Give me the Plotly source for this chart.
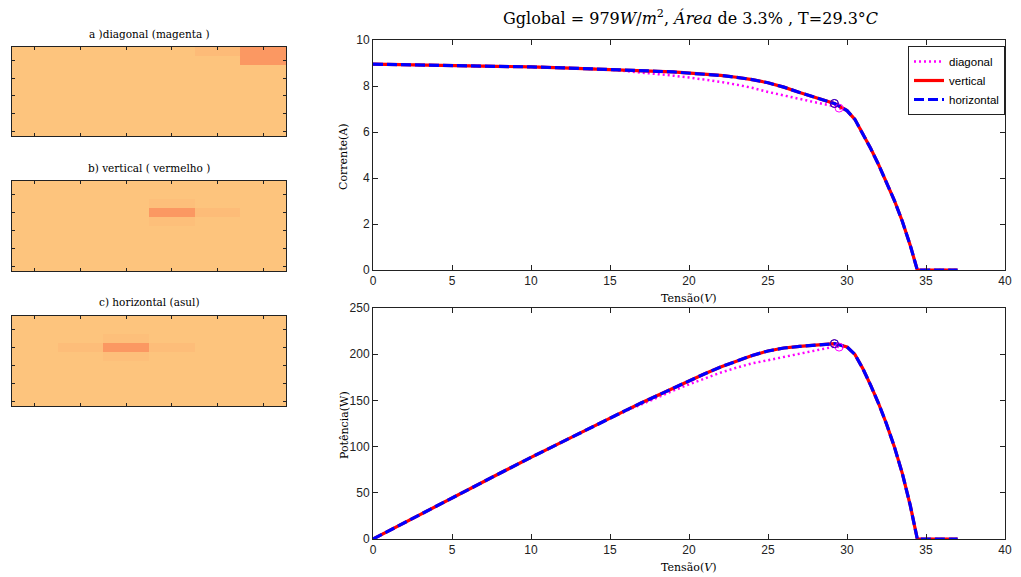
import plotly.graph_objects as go

# ---------------- data ----------------
tensao = [0, 2, 4, 6, 8, 10, 12, 14, 15, 16, 17, 18, 19, 20, 21, 22, 23, 24, 25, 26, 27, 28, 29,
          29.2, 29.5, 30, 30.5, 31, 31.5, 32, 32.5, 33, 33.5, 34, 34.45, 35, 36, 37]

corrente_vertical = [8.95, 8.93, 8.91, 8.89, 8.86, 8.83, 8.79, 8.75, 8.73, 8.70, 8.67, 8.64, 8.61,
                     8.57, 8.52, 8.46, 8.38, 8.28, 8.14, 7.95, 7.72, 7.49, 7.28, 7.24, 7.13, 6.93,
                     6.55, 5.95, 5.28, 4.58, 3.83, 3.02, 2.12, 1.08, 0.0, 0.0, 0.0, 0.0]
corrente_horizontal = [8.95, 8.93, 8.91, 8.89, 8.86, 8.83, 8.79, 8.75, 8.73, 8.70, 8.67, 8.64, 8.61,
                       8.57, 8.52, 8.46, 8.38, 8.28, 8.14, 7.95, 7.72, 7.49, 7.28, 7.24, 7.13, 6.93,
                       6.55, 5.95, 5.28, 4.58, 3.83, 3.02, 2.12, 1.08, 0.0, 0.0, 0.0, 0.0]
corrente_diagonal = [8.95, 8.93, 8.91, 8.89, 8.86, 8.83, 8.79, 8.75, 8.71, 8.65, 8.59, 8.52, 8.45,
                     8.37, 8.28, 8.18, 8.06, 7.92, 7.74, 7.58, 7.42, 7.29, 7.15, 7.13, 7.04, 6.93,
                     6.55, 5.95, 5.28, 4.58, 3.83, 3.02, 2.12, 1.08, 0.0, 0.0, 0.0, 0.0]

potencia_vertical = [0, 17.9, 35.6, 53.3, 70.9, 88.3, 105.5, 122.5, 131.0, 139.2, 147.4, 155.5, 163.6,
                     171.4, 178.9, 186.1, 192.7, 198.7, 203.5, 206.7, 208.4, 209.7, 211.1, 211.4, 210.3,
                     207.9, 199.8, 184.5, 166.3, 146.6, 124.5, 99.7, 71.0, 36.7, 0, 0, 0, 0]
potencia_horizontal = [0, 17.9, 35.6, 53.3, 70.9, 88.3, 105.5, 122.5, 131.0, 139.2, 147.4, 155.5, 163.6,
                       171.4, 178.9, 186.1, 192.7, 198.7, 203.5, 206.7, 208.4, 209.7, 211.1, 211.4, 210.3,
                       207.9, 199.8, 184.5, 166.3, 146.6, 124.5, 99.7, 71.0, 36.7, 0, 0, 0, 0]
potencia_diagonal = [0, 17.9, 35.6, 53.3, 70.9, 88.3, 105.5, 122.5, 130.7, 138.4, 146.0, 153.4, 160.6,
                     167.4, 173.9, 180.0, 185.4, 190.1, 193.5, 197.1, 200.3, 204.1, 207.4, 208.2, 207.7,
                     207.9, 199.8, 184.5, 166.3, 146.6, 124.5, 99.7, 71.0, 36.7, 0, 0, 0, 0]

# maximum power points (diagonal, vertical, horizontal)
mpp_tensao = [29.5, 29.2, 29.2]
mpp_corrente = [7.04, 7.24, 7.24]
mpp_potencia = [207.7, 211.4, 211.4]

series_names = ["diagonal", "vertical", "horizontal"]
series_colors = ["#FF00FF", "#FF0000", "#0000FF"]

x_ticks_iv = [0, 5, 10, 15, 20, 25, 30, 35, 40]
y_ticks_i = [0, 2, 4, 6, 8, 10]
y_ticks_p = [0, 50, 100, 150, 200, 250]

# shading maps (10 rows x 6 columns)
sombra_diagonal = [
    [0, 0, 0, 0, 0.2, 1],
    [0, 0, 0, 0, 0, 1],
    [0, 0, 0, 0, 0, 0],
    [0, 0, 0, 0, 0, 0],
    [0, 0, 0, 0, 0, 0],
    [0, 0, 0, 0, 0, 0],
    [0, 0, 0, 0, 0, 0],
    [0, 0, 0, 0, 0, 0],
    [0, 0, 0, 0, 0, 0],
    [0, 0, 0, 0, 0, 0],
]
sombra_vertical = [
    [0, 0, 0, 0, 0, 0],
    [0, 0, 0, 0, 0, 0],
    [0, 0, 0, 0.12, 0, 0],
    [0, 0, 0, 1, 0.18, 0],
    [0, 0, 0, 0.12, 0, 0],
    [0, 0, 0, 0, 0, 0],
    [0, 0, 0, 0, 0, 0],
    [0, 0, 0, 0, 0, 0],
    [0, 0, 0, 0, 0, 0],
    [0, 0, 0, 0, 0, 0],
]
sombra_horizontal = [
    [0, 0, 0, 0, 0, 0],
    [0, 0, 0, 0, 0, 0],
    [0, 0, 0.12, 0, 0, 0],
    [0, 0.15, 1, 0.15, 0, 0],
    [0, 0, 0.12, 0, 0, 0],
    [0, 0, 0, 0, 0, 0],
    [0, 0, 0, 0, 0, 0],
    [0, 0, 0, 0, 0, 0],
    [0, 0, 0, 0, 0, 0],
    [0, 0, 0, 0, 0, 0],
]
heat_titles = ["a )diagonal (magenta )", "b) vertical ( vermelho )", "c) horizontal (asul)"]

# ---------------- figure ----------------
W, H = 1021, 577
def fx(px):
    return px / W
def fy(py):
    return 1 - py / H

fig = go.Figure()

colorscale = [[0, "rgb(253,196,125)"], [1, "rgb(251,152,98)"]]
heat_boxes = [(47, 136), (181, 271), (316, 406)]
for k, z in enumerate([sombra_diagonal, sombra_vertical, sombra_horizontal]):
    fig.add_trace(go.Heatmap(z=z, colorscale=colorscale, zmin=0, zmax=1, showscale=False,
                             xaxis=f"x{k+1 if k else ''}", yaxis=f"y{k+1 if k else ''}",
                             hoverinfo="skip"))

line_styles = [dict(color=series_colors[0], width=2.5, dash="2px,3px"),
               dict(color=series_colors[1], width=3.2, dash="solid"),
               dict(color=series_colors[2], width=3.2, dash="10px,4px")]
i_series = [corrente_diagonal, corrente_vertical, corrente_horizontal]
p_series = [potencia_diagonal, potencia_vertical, potencia_horizontal]
for s in range(3):
    fig.add_trace(go.Scatter(x=tensao, y=i_series[s], mode="lines", name=series_names[s],
                             line=line_styles[s], xaxis="x4", yaxis="y4"))
for s in range(3):
    fig.add_trace(go.Scatter(x=[mpp_tensao[s]], y=[mpp_corrente[s]], mode="markers",
                             marker=dict(symbol="circle-open", size=8, color=series_colors[s],
                                         line=dict(width=1)),
                             showlegend=False, xaxis="x4", yaxis="y4"))
for s in range(3):
    fig.add_trace(go.Scatter(x=tensao, y=p_series[s], mode="lines", name=series_names[s],
                             line=line_styles[s], showlegend=False, xaxis="x5", yaxis="y5"))
for s in range(3):
    fig.add_trace(go.Scatter(x=[mpp_tensao[s]], y=[mpp_potencia[s]], mode="markers",
                             marker=dict(symbol="circle-open", size=8, color=series_colors[s],
                                         line=dict(width=1)),
                             showlegend=False, xaxis="x5", yaxis="y5"))

tickfont = dict(family="Liberation Sans, Arial, sans-serif", size=12, color="#222")
axis_common = dict(showline=True, linecolor="#222", linewidth=1, mirror="ticks", ticks="inside",
                   ticklen=5, tickcolor="#222", showgrid=False, zeroline=False, tickfont=tickfont,
                   automargin=False)

layout = dict(width=W, height=H, margin=dict(l=0, r=0, t=0, b=0, pad=0, autoexpand=False),
              paper_bgcolor="white", plot_bgcolor="white", showlegend=True)

for k, (top, bot) in enumerate(heat_boxes):
    sx = "xaxis" + (str(k + 1) if k else "")
    sy = "yaxis" + (str(k + 1) if k else "")
    layout[sx] = dict(axis_common, domain=[fx(12), fx(286)], range=[-0.5, 5.5],
                      tickvals=[0, 1, 2, 3, 4, 5], showticklabels=False, ticklen=3,
                      anchor="y" + (str(k + 1) if k else ""))
    layout[sy] = dict(axis_common, domain=[fy(bot), fy(top)], range=[9.5, -0.5],
                      tickvals=[1, 3, 5, 7, 9], showticklabels=False, ticklen=3,
                      anchor="x" + (str(k + 1) if k else ""))

layout["xaxis4"] = dict(axis_common, domain=[fx(373), fx(1005)], range=[0, 40],
                        tickvals=x_ticks_iv, anchor="y4")
layout["yaxis4"] = dict(axis_common, domain=[fy(270), fy(40)], range=[0, 10],
                        tickvals=y_ticks_i, anchor="x4")
layout["xaxis5"] = dict(axis_common, domain=[fx(373), fx(1005)], range=[0, 40],
                        tickvals=x_ticks_iv, anchor="y5")
layout["yaxis5"] = dict(axis_common, domain=[fy(539), fy(308)], range=[0, 250],
                        tickvals=y_ticks_p, anchor="x5")

layout["legend"] = dict(x=fx(1005), y=fy(46), xanchor="right", yanchor="top",
                        bgcolor="white", bordercolor="#222", borderwidth=1,
                        font=dict(family="Liberation Sans, Arial, sans-serif", size=11.5, color="#000"),
                        tracegroupgap=0, itemwidth=30)

serif = "DejaVu Serif, Liberation Serif, serif"
annotations = []
heat_title_y = [34, 168, 302]
for k in range(3):
    annotations.append(dict(text=heat_titles[k], x=fx(149), y=fy(heat_title_y[k]), xref="paper",
                            yref="paper", showarrow=False, xanchor="center", yanchor="middle",
                            font=dict(family=serif, size=10.5, color="#000")))
annotations.append(dict(text="Gglobal = 979<i>W</i>/<i>m</i><sup>2</sup>, <i>Área</i> de 3.3% , T=29.3°<i>C</i>",
                        x=fx(690), y=fy(18), xref="paper", yref="paper", showarrow=False,
                        xanchor="center", yanchor="middle", font=dict(family=serif, size=16, color="#000")))
annotations.append(dict(text="Corrente(A)", x=fx(344), y=fy(157), xref="paper", yref="paper",
                        showarrow=False, textangle=-90, xanchor="center", yanchor="middle",
                        font=dict(family=serif, size=11, color="#000")))
annotations.append(dict(text="Potência(W)", x=fx(344), y=fy(425), xref="paper", yref="paper",
                        showarrow=False, textangle=-90, xanchor="center", yanchor="middle",
                        font=dict(family=serif, size=11, color="#000")))
for yy in [298, 567]:
    annotations.append(dict(text="Tensão(<i>V</i>)", x=fx(688), y=fy(yy), xref="paper", yref="paper",
                            showarrow=False, xanchor="center", yanchor="middle",
                            font=dict(family=serif, size=11, color="#000")))
layout["annotations"] = annotations

fig.update_layout(**layout)
fig.write_html("out.html")
